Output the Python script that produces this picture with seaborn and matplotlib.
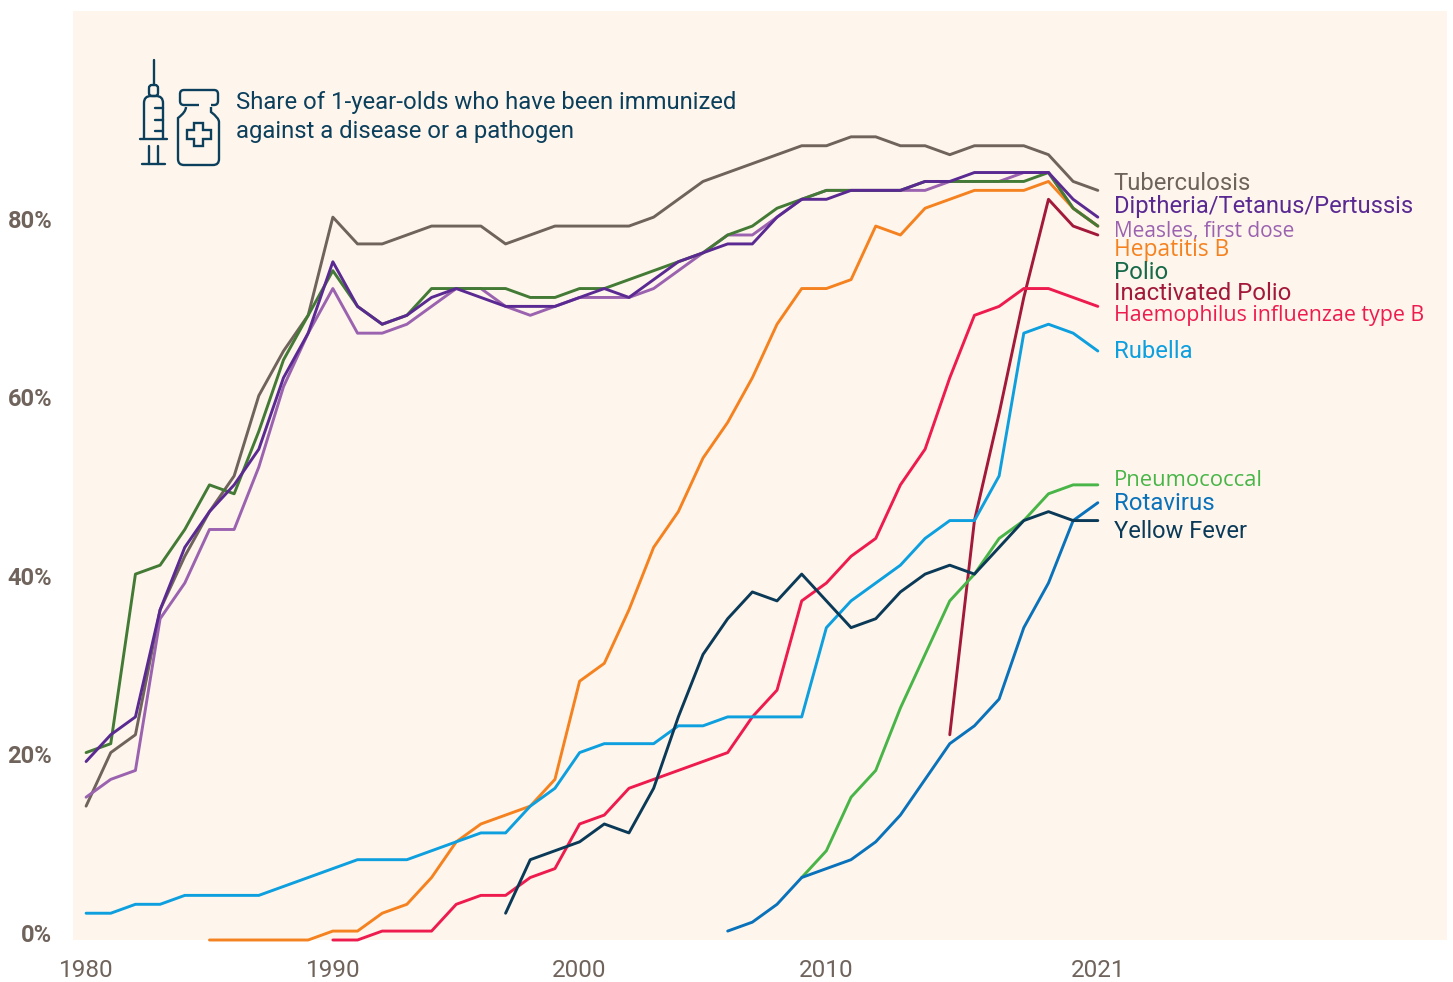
import numpy as np
import pandas as pd
import matplotlib
matplotlib.use("Agg")
import matplotlib.pyplot as plt
from matplotlib.patches import FancyBboxPatch, Polygon
from matplotlib.path import Path
from matplotlib.patches import PathPatch
from matplotlib.transforms import ScaledTranslation
import seaborn as sns

tuberculosis = [14,20,22,36,42,47,51,60,65,69,80,77,77,78,79,79,79,77,78,79,79,79,79,80,82,84,85,86,87,88,88,89,89,88,88,87,88,88,88,87,84,83]
measles = [15,17,18,35,39,45,45,52,61,67,72,67,67,68,70,72,72,70,69,70,71,71,71,72,74,76,78,78,80,82,83,83,83,83,83,84,84,84,85,85,81,79]
polio = [20,21,40,41,45,50,49,56,64,69,74,70,68,69,72,72,72,72,71,71,72,72,73,74,75,76,78,79,81,82,83,83,83,83,84,84,84,84,84,85,81,79]
dtp = [19,22,24,36,43,47,50,54,62,67,75,70,68,69,71,72,71,70,70,70,71,72,71,73,75,76,77,77,80,82,82,83,83,83,84,84,85,85,85,85,82,80]
hepb = [-1,-1,-1,-1,-1,0,0,2,3,6,10,12,13,14,17,28,30,36,43,47,53,57,62,68,72,72,73,79,78,81,82,83,83,83,84,81,79]
ipv = [22,46,58,71,82,79,78]
hib = [-1,-1,0,0,0,3,4,4,6,7,12,13,16,17,18,19,20,24,27,37,39,42,44,50,54,62,69,70,72,72,71,70]
rubella = [2,2,3,3,4,4,4,4,5,6,7,8,8,8,9,10,11,11,14,16,20,21,21,21,23,23,24,24,24,24,34,37,39,41,44,46,46,51,67,68,67,65]
pneumo = [6,9,15,18,25,31,37,40,44,46,49,50,50]
rota = [0,1,3,6,7,8,10,13,17,21,23,26,34,39,46,48]
yellow = [2,8,9,10,12,11,16,24,31,35,38,37,40,37,34,35,38,40,41,40,43,46,47,46,46]

names = ["Tuberculosis","Measles, first dose","Hepatitis B","Polio","Diptheria/Tetanus/Pertussis",
         "Inactivated Polio","Haemophilus influenzae type B","Rubella","Pneumococcal","Rotavirus","Yellow Fever"]
series = [tuberculosis,measles,hepb,polio,dtp,ipv,hib,rubella,pneumo,rota,yellow]
starts = [1980,1980,1985,1980,1980,2015,1990,1980,2009,2006,1997]
line_colors = ["#6f635b","#9b62b0","#f58220","#437a35","#5a2a92","#a3193a","#ee1c4e","#0e9fdf","#49b548","#0a72ba","#0b3a58"]
label_colors = ["#6f635b","#9b62b0","#f58220","#17694a","#5a2a92","#a3193a","#ee1c4e","#0e9fdf","#49b548","#0a72ba","#0b3a58"]
label_fonts = ["Roboto","Open Sans","Open Sans","Roboto","Roboto","Roboto","Open Sans","Roboto","Open Sans","Roboto","Roboto"]
label_sizes = [17.2,15.0,16.4,17.2,17.15,17.2,15.4,17.2,15.8,17.3,17.0]
label_vals = [83.8,78.4,76.27,73.75,81.2,71.47,68.97,64.97,50.45,47.86,44.74]
x_ticks = [1980,1990,2000,2010,2021]
y_ticks = [0,20,40,60,80]
title = "Share of 1-year-olds who have been immunized\nagainst a disease or a pathogen"

sns.set_theme(style="white", rc={"font.family":"Roboto"})
plt.rcParams["font.family"] = ["Roboto","DejaVu Sans"]

W,H = 1453,982
fig = plt.figure(figsize=(W/100,H/100),dpi=100,facecolor="white")
ax = fig.add_axes([73/W,1-940/H,(1447-73)/W,(940-11)/H],facecolor="#fef6ec")

df = pd.concat([pd.DataFrame({"year":np.arange(s,s+len(v)),"value":v,"name":n}) for n,v,s in zip(names,series,starts)])
sns.lineplot(data=df,x="year",y="value",hue="name",hue_order=names,palette=line_colors,
             errorbar=None,linewidth=2.1,legend=False,ax=ax)
for l in ax.get_lines():
    l.set_clip_on(False)
    l.set_solid_capstyle("round")

ax.set_xlim(1979.47,2035.15)
ax.set_ylim(-1,103.1)
ax.set_xlabel(""); ax.set_ylabel("")
ax.set_xticks(x_ticks); ax.set_xticklabels([str(t) for t in x_ticks])
ax.set_yticks(y_ticks); ax.set_yticklabels([f"{t}%" for t in y_ticks],weight="bold")
ax.tick_params(axis="x",length=0,pad=13.5,labelsize=17.5,labelcolor="#6f635b")
ax.tick_params(axis="y",length=0,pad=15,labelsize=17,labelcolor="#6f635b")
shift = ScaledTranslation(0,-1.5/100,fig.dpi_scale_trans)
for t in ax.get_yticklabels():
    t.set_transform(t.get_transform()+shift)
for s in ax.spines.values(): s.set_visible(False)

for n,c,f,z,v in zip(names,label_colors,label_fonts,label_sizes,label_vals):
    ax.text(2021.65,v,n,color=c,fontsize=z,family=f,va="center",ha="left")

ov = fig.add_axes([0,0,1,1],facecolor="none")
ov.set_xlim(0,W); ov.set_ylim(H,0); ov.axis("off")
ic = "#0b3f5c"; lw=1.7
def seg(x0,y0,x1,y1):
    ov.plot([x0,x1],[y0,y1],color=ic,lw=lw,solid_capstyle="round")
seg(153.5,60,153.5,85)
ov.add_patch(FancyBboxPatch((149,85),9,11,boxstyle="round,pad=0,rounding_size=3",fc="none",ec=ic,lw=lw))
ov.add_patch(PathPatch(Path([(144,139),(144,103),(144,96),(151,96),(156,96),(163,96),(163,103),(163,139)],
    [Path.MOVETO,Path.LINETO,Path.CURVE3,Path.CURVE3,Path.LINETO,Path.CURVE3,Path.CURVE3,Path.LINETO]),fc="none",ec=ic,lw=lw))
seg(140,139,167,139)
for y in (108,120,131): seg(155,y,163,y)
seg(149,146,149,164); seg(158,146,158,164); seg(142,164,165,164)
ov.add_patch(PathPatch(Path([(199,105),(184,105),(180,105),(180,101),(180,94),(180,90),(184,90),(214,90),(218,90),(218,94),(218,101),(218,105),(214,105),(211,105)],
    [Path.MOVETO,Path.LINETO,Path.CURVE3,Path.CURVE3,Path.LINETO,Path.CURVE3,Path.CURVE3,Path.LINETO,Path.CURVE3,Path.CURVE3,Path.LINETO,Path.CURVE3,Path.CURVE3,Path.LINETO]),fc="none",ec=ic,lw=lw))
ov.add_patch(PathPatch(Path([(186,107),(186,112),(178,118),(178,122),(178,159),(178,165),(184,165),(213,165),(219,165),(219,159),(219,122),(219,118),(211,112),(211,107)],
    [Path.MOVETO,Path.CURVE3,Path.CURVE3,Path.LINETO,Path.LINETO,Path.CURVE3,Path.CURVE3,Path.LINETO,Path.CURVE3,Path.CURVE3,Path.LINETO,Path.CURVE3,Path.CURVE3,Path.LINETO]),fc="none",ec=ic,lw=lw))
ov.add_patch(Polygon([(194,123),(203,123),(203,130),(211,130),(211,139),(203,139),(203,146),(194,146),(194,139),(187,139),(187,130),(194,130)],closed=True,fc="none",ec=ic,lw=lw))
ov.text(236,117,title,color=ic,fontsize=17.2,va="center",ha="left",linespacing=1.33)

fig.savefig("out.png",dpi=100)
